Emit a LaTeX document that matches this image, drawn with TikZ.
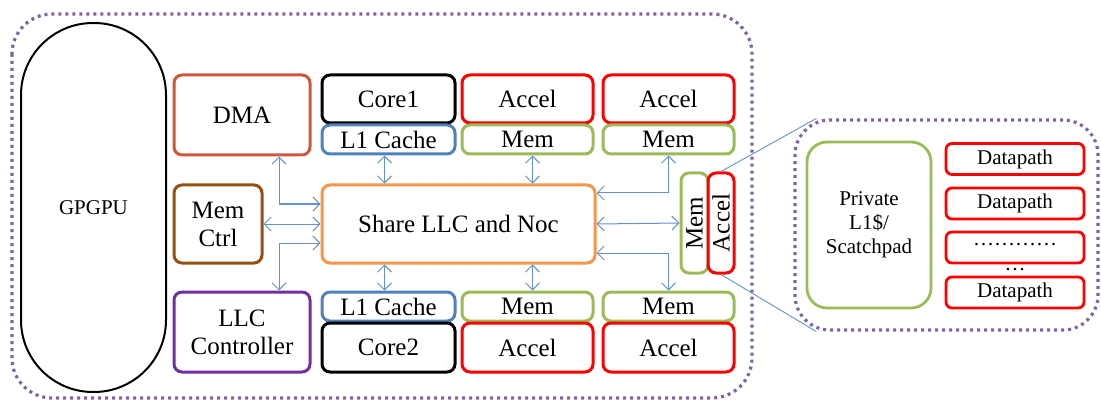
\documentclass[tikz,border=0pt]{standalone}
\usepackage{fontspec}
\setmainfont{Liberation Serif}
\usetikzlibrary{arrows.meta}

\definecolor{dmac}{RGB}{208,86,62}
\definecolor{ctrlc}{RGB}{150,80,20}
\definecolor{llcc}{RGB}{112,48,160}
\definecolor{cachec}{RGB}{79,129,189}
\definecolor{memc}{RGB}{155,187,89}
\definecolor{sharec}{RGB}{247,150,70}
\definecolor{punct}{RGB}{128,100,162}
\definecolor{sageata}{RGB}{100,145,205}

\tikzset{
  bloc/.style={draw, rounded corners=8pt, line width=3pt, inner sep=0pt, align=center,
    font=\fontsize{25}{28}\selectfont},
  mic/.style={bloc, line width=2.8pt, font=\fontsize{21}{24}\selectfont},
  leg/.style={draw=sageata, line width=1pt,
    {Straight Barb[length=7pt,width=14pt]}-{Straight Barb[length=7pt,width=14pt]}},
  chenar/.style={draw=punct, line width=3.2pt, dash pattern=on 3pt off 4pt},
}

\begin{document}
\begin{tikzpicture}[x=1pt,y=-1pt]
  \useasboundingbox (0,0) rectangle (1101,401);

  % chenarul mare
  \draw[chenar, rounded corners=40pt] (12,14) rectangle (752,398);

  % GPGPU
  \node[draw, line width=2pt, rounded corners=72pt, minimum width=145pt, minimum height=369pt,
    font=\fontsize{21}{24}\selectfont] (gpgpu) at (93.5,207.5) {GPGPU};

  % controlere
  \node[bloc, draw=dmac, minimum width=136pt, minimum height=80pt] (dma) at (242,115) {DMA};
  \node[bloc, draw=ctrlc, minimum width=88pt, minimum height=78pt] (memctrl) at (218,224) {Mem\\Ctrl};
  \node[bloc, draw=llcc, minimum width=136pt, minimum height=80pt] (llcctrl) at (242,332) {LLC\\Controller};

  % LLC comun
  \node[bloc, draw=sharec, minimum width=273pt, minimum height=78pt] (share) at (458.5,224) {Share LLC and Noc};

  % sus
  \node[bloc, draw=black, minimum width=133pt, minimum height=48pt] (core1) at (388.5,99) {Core1};
  \node[bloc, draw=cachec, minimum width=133pt, minimum height=29pt] (cache1) at (388.5,139.5) {L1 Cache};
  \node[bloc, draw=red, minimum width=131pt, minimum height=48pt] (accA) at (527.5,99) {Accel};
  \node[bloc, draw=memc, minimum width=131pt, minimum height=29pt] (memA) at (527.5,139.5) {Mem};
  \node[bloc, draw=red, minimum width=131pt, minimum height=48pt] (accB) at (668.5,99) {Accel};
  \node[bloc, draw=memc, minimum width=131pt, minimum height=29pt] (memB) at (668.5,139.5) {Mem};

  % jos
  \node[bloc, draw=cachec, minimum width=133pt, minimum height=29pt] (cache2) at (388.5,306.5) {L1 Cache};
  \node[bloc, draw=black, minimum width=133pt, minimum height=49pt] (core2) at (388.5,347.5) {Core2};
  \node[bloc, draw=memc, minimum width=131pt, minimum height=29pt] (memC) at (527.5,306.5) {Mem};
  \node[bloc, draw=red, minimum width=131pt, minimum height=49pt] (accC) at (527.5,347.5) {Accel};
  \node[bloc, draw=memc, minimum width=131pt, minimum height=29pt] (memD) at (668.5,306.5) {Mem};
  \node[bloc, draw=red, minimum width=131pt, minimum height=49pt] (accD) at (668.5,347.5) {Accel};

  % vertical
  \node[bloc, draw=memc, rotate=90, minimum width=100pt, minimum height=27pt] (memV) at (694.5,223) {Mem};
  \node[bloc, draw=red, rotate=90, minimum width=100pt, minimum height=26pt] (accV) at (721,223) {Accel};

  % legaturi
  \draw[leg] ([xshift=37pt]dma.south) |- ([yshift=20pt]share.west);
  \draw[leg] (memctrl.east) -- (memctrl.east -| share.west);
  \draw[leg] ([xshift=37pt]llcctrl.north) |- ([yshift=-19pt]share.west);
  \draw[leg] ([xshift=-4pt]cache1.south) -- ([xshift=-4pt]cache1.south |- share.north);
  \draw[leg] ([xshift=5pt]memA.south) -- ([xshift=5pt]memA.south |- share.north);
  \draw[leg] (memB.south) |- ([yshift=31pt]share.east);
  \draw[leg] (share.east) -- (memV.north);
  \draw[leg] ([yshift=-29pt]share.east) -| (memD.north);
  \draw[leg] ([xshift=-4pt]cache2.north) -- ([xshift=-4pt]cache2.north |- share.south);
  \draw[leg] ([xshift=5pt]memC.north) -- ([xshift=5pt]memC.north |- share.south);

  % detaliu accelerator
  \node[chenar, rounded corners=35pt, minimum width=303pt, minimum height=210pt] (zoom) at (946.5,225) {};
  \draw[sageata, line width=0.9pt] (accV.east) -- ([xshift=23pt]zoom.north west);
  \draw[sageata, line width=0.9pt] (accV.west) -- ([xshift=23pt]zoom.south west);

  \node[mic, draw=memc, rounded corners=20pt, minimum width=124pt, minimum height=166pt] (priv) at (869,225) {Private\\L1\$/\\Scatchpad};
  \foreach \y/\n in {159/dp1, 203.5/dp2, 292.5/dp4}
    \node[mic, draw=red, rounded corners=6pt, minimum width=138pt, minimum height=31pt] (\n) at (1015,\y) {Datapath};
  \node[mic, draw=red, rounded corners=6pt, minimum width=138pt, minimum height=31pt] (dp3) at (1015,247.5) {\raisebox{7pt}{…………}};
  \node[font=\fontsize{21}{24}\selectfont, inner sep=0pt, anchor=base] (puncte) at (1015,270) {…};
\end{tikzpicture}
\end{document}
